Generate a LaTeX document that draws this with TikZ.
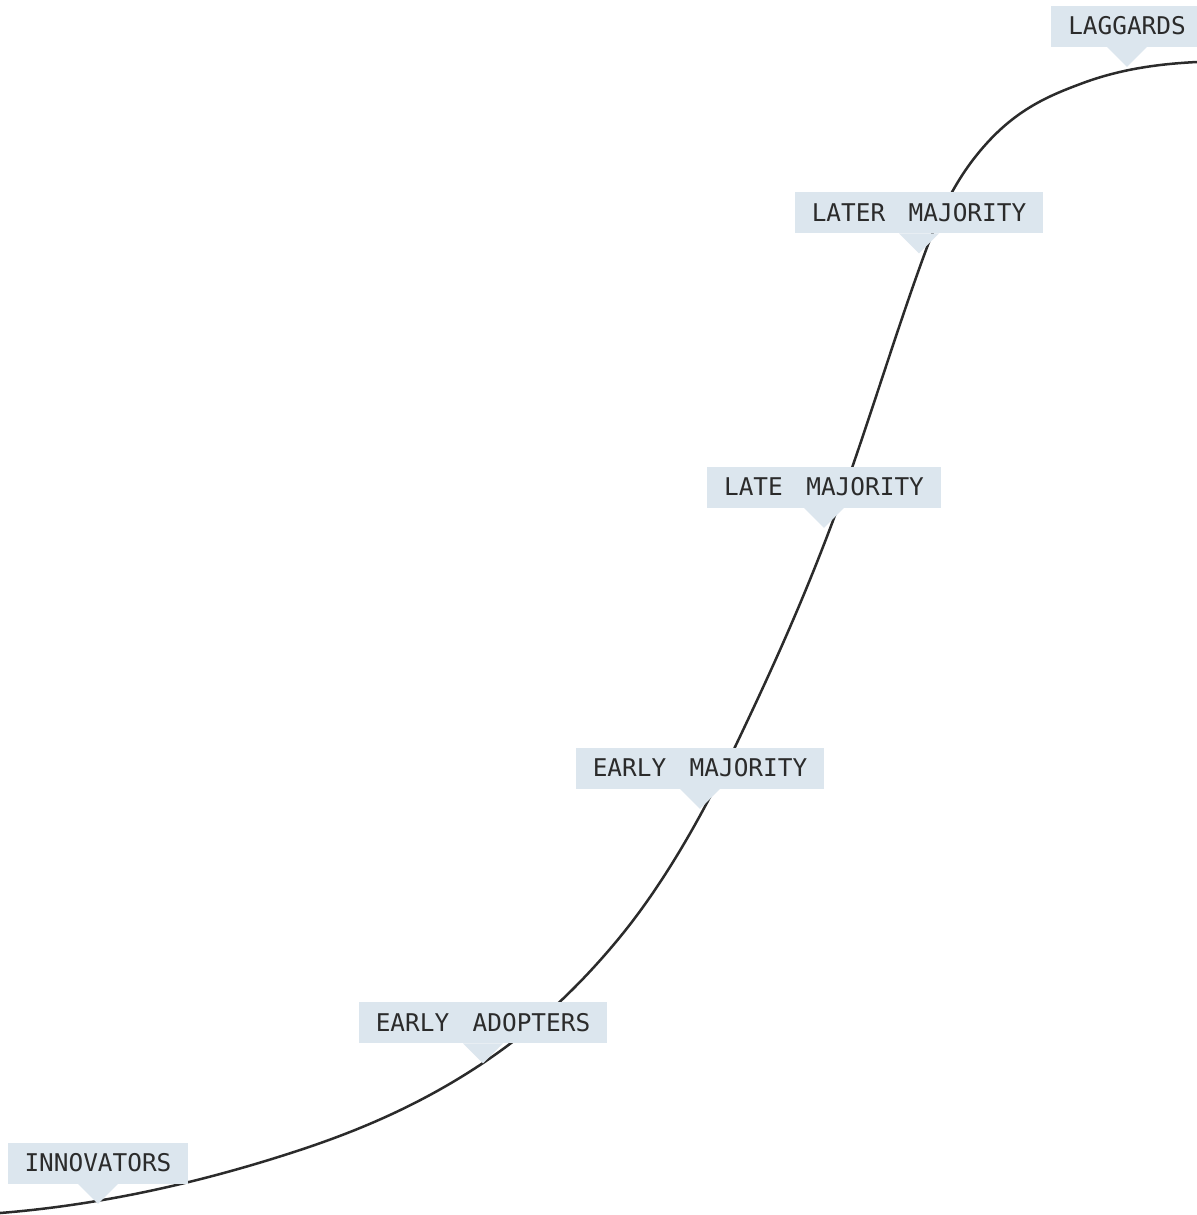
\documentclass[tikz,border=0pt]{standalone}
\usepackage{fontspec}
\newfontfamily\lblfont[WordSpace=1.6]{DejaVu Sans Mono}
\definecolor{boxfill}{HTML}{DCE6EE}
\definecolor{inkc}{HTML}{2B2B2B}
\tikzset{
  lbl/.style={fill=boxfill, text=inkc, inner xsep=8.5pt, inner ysep=0pt,
    minimum height=20.5pt, font=\lblfont\fontsize{12.2pt}{14pt}\selectfont},
  curveline/.style={draw=inkc, line width=1.25pt},
}
\newcommand{\pointer}[1]{\fill[boxfill] ([xshift=-10pt]#1.south) -- ([xshift=10pt]#1.south) -- ([yshift=-10pt]#1.south) -- cycle;}
\begin{document}
\begin{tikzpicture}[x=0.5pt,y=-0.5pt]
\useasboundingbox (0,0) rectangle (1197,1215);
\clip (0,0) rectangle (1197,1215);
\fill[white] (0,0) rectangle (1197,1215);
% points on the curve
\coordinate (pA) at (0,1213);
\coordinate (pB) at (300,1150);
\coordinate (pC) at (480,1065);
\coordinate (pD) at (620,937);
\coordinate (pE) at (735,747);
\coordinate (pF) at (853,465);
\coordinate (pG) at (926,250);
\coordinate (pH) at (987,143);
\coordinate (pI) at (1083,83);
\coordinate (pJ) at (1197,62);
\draw[curveline] (pA)
  .. controls (100,1205) and (200,1183) .. (pB)
  .. controls (360,1130.2) and (420,1104.6) .. (pC)
  .. controls (526.67,1034.2) and (573.33,993.93) .. (pD)
  .. controls (658.33,890.23) and (696.67,827.5) .. (pE)
  .. controls (774.33,664.4) and (813.67,579.07) .. (pF)
  .. controls (877.33,394.43) and (901.67,315.7) .. (pG)
  .. controls (946.33,195.1) and (966.67,165.37) .. (pH)
  .. controls (1019,107.8) and (1051,94.84) .. (pI)
  .. controls (1121,68.94) and (1159,63.9) .. (pJ);
% labels
\node[lbl] (lag) at (1127,26) {LAGGARDS};
\node[lbl] (later) at (919,212.5) {LATER MAJORITY};
\node[lbl] (late) at (824,487) {LATE MAJORITY};
\node[lbl] (earlym) at (700,768) {EARLY MAJORITY};
\node[lbl] (adopt) at (483,1022.5) {EARLY ADOPTERS};
\node[lbl] (innov) at (98,1163) {INNOVATORS};
\pointer{lag}
\pointer{later}
\pointer{late}
\pointer{earlym}
\pointer{adopt}
\pointer{innov}
\end{tikzpicture}
\end{document}
